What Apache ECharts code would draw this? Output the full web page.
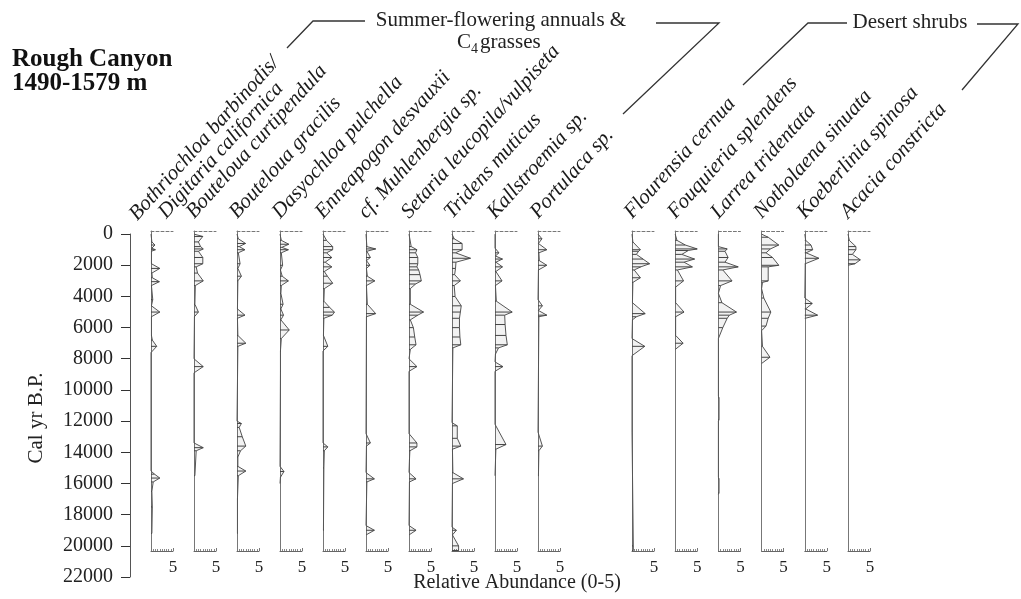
<!DOCTYPE html>
<html><head><meta charset="utf-8">
<script src="https://cdn.jsdelivr.net/npm/echarts@6/dist/echarts.min.js"></script>
<style>html,body{margin:0;padding:0;background:#fff}#c{width:1021px;height:599px}</style>
</head><body><div id="c"></div><script>
// ---------- DATA ----------
const taxa = [
  ['Bothriochloa barbinodis/', 'Digitaria californica'],
  ['Bouteloua curtipendula'], ['Bouteloua gracilis'], ['Dasyochloa pulchella'],
  ['Enneapogon desvauxii'], ['cf. Muhlenbergia sp.'], ['Setaria leucopila/vulpiseta'],
  ['Tridens muticus'], ['Kallstroemia sp.'], ['Portulaca sp.'],
  ['Flourensia cernua'], ['Fouquieria splendens'], ['Larrea tridentata'],
  ['Notholaena sinuata'], ['Koeberlinia spinosa'], ['Acacia constricta']
];
// [cal yr B.P., relative abundance 0-5]
const bothriochloa = [[0,0],[500,0.2],[700,0.9],[900,0.2],[1000,1.0],[1100,0.1],[1900,0.1],[2200,2.0],[2500,0.2],[2800,0.3],[3050,1.9],[3300,0.1],[4200,0.4],[4600,0.1],[5000,2.0],[5300,0.1],[6500,0.1],[6800,0.3],[7200,1.3],[7600,0],[15200,0],[15400,0.8],[15650,2.0],[15900,0.5],[16500,0.2],[17500,0.3],[19200,0.2]];
const boutelouaCurt = [[0,0],[150,2.0],[500,1.0],[800,1.5],[950,2.1],[1100,1.0],[1500,2.0],[1900,2.0],[2100,0.5],[2500,0.8],[3000,2.1],[3300,0.3],[4500,0.2],[5000,1.0],[5300,0.1],[8000,0],[8500,2.1],[8900,0],[13400,0],[13700,2.1],[13900,0.5],[15500,0.2]];
const boutelouaGrac = [[0,0],[300,0.3],[600,1.95],[800,0.5],[1000,1.8],[1200,0.3],[1900,0.7],[2200,0.2],[2700,1.0],[3000,0.2],[4800,0.1],[5200,1.8],[5400,0.1],[6500,0.2],[7000,2.0],[7200,0.2],[12000,0],[12150,1.0],[12400,0.5],[13000,1.2],[13600,2.0],[13900,0.8],[14300,0.2],[14900,0.2],[15200,2.0],[15500,0.3],[17000,0.1],[19200,0.1]];
const dasyochloa = [[0,0],[400,0.3],[650,2.0],[850,0.4],[1000,1.9],[1200,0.3],[2000,0.6],[2300,0.1],[2700,0.5],[3000,1.9],[3300,0.3],[3800,0.2],[4500,0.7],[4800,0.2],[5200,0.8],[5500,0.2],[6150,2.1],[6700,0.3],[7500,0.1],[8800,0.1],[14900,0],[15230,0.9],[15600,0.1],[16000,0]];
const enneapogon = [[0,0],[400,0.8],[800,2.2],[1000,2.2],[1200,0.8],[1500,2.0],[1800,0.5],[2100,2.0],[2400,0.3],[2700,1.0],[3150,2.2],[3500,0.3],[4300,0.2],[4700,1.5],[5000,2.6],[5200,2.1],[5400,0.2],[6500,0.1],[7200,1.1],[7500,0],[13400,0],[13650,1.1],[13900,0.3],[15000,0.2],[19000,0.1]];
const muhlenbergia = [[0,0],[800,0.2],[950,2.2],[1100,0.2],[1500,1.0],[1700,0.1],[2000,0.9],[2200,0.1],[2700,0.3],[3000,2.0],[3300,0.1],[4500,0.3],[5100,2.2],[5300,0.1],[12800,0],[13400,1.0],[13600,0.1],[15300,0],[15700,1.9],[15900,0.2],[18700,0],[19000,1.9],[19300,0]];
const setaria = [[0,0],[800,0.5],[1000,1.8],[1200,1.5],[1500,2.0],[1900,2.0],[2100,1.8],[2300,2.2],[2600,2.5],[3000,2.8],[3200,1.5],[3500,0.3],[4500,0.3],[5000,3.3],[5200,2.0],[5500,0.3],[6000,1.0],[6600,1.3],[7100,1.6],[7400,0.3],[8000,0],[8500,1.8],[8800,0],[12800,0],[13400,1.8],[13650,1.8],[13900,0.2],[14500,0.1],[15300,0],[15700,1.6],[15900,0.1],[18700,0],[19000,1.6],[19300,0]];
const tridens = [[0,0],[300,0.5],[600,2.3],[1000,2.3],[1200,0.8],[1550,4.2],[1800,0.9],[2200,0.8],[2600,0.6],[3000,1.9],[3300,0.5],[4000,0.7],[4600,2.1],[5000,1.9],[5400,1.7],[6000,1.7],[6600,1.8],[7100,2.0],[7300,0.2],[12100,0],[12300,1.2],[13100,1.2],[13600,2.0],[13800,0.1],[15300,0.2],[15700,2.6],[16000,0.1],[18800,0],[19000,1.0],[19300,0.1],[20000,1.5],[20300,1.5]];
const kallstroemia = [[0,0],[900,0],[1200,0.9],[1400,0.1],[1600,1.7],[1800,0.2],[2100,1.7],[2400,0.2],[3000,1.6],[3300,0.1],[4300,0.3],[5000,3.9],[5200,2.2],[5800,2.3],[6500,2.5],[7100,2.8],[7300,0.8],[7700,0.1],[8200,0],[8500,1.8],[8800,0],[12200,0],[13500,2.5],[13800,0.2],[15500,0]];
const portulaca = [[0,0],[300,0.9],[600,0.1],[1000,2.0],[1200,0.2],[1700,0.3],[2000,2.0],[2300,0.1],[4200,0],[4600,1.0],[4900,0.1],[5200,2.0],[5300,0.2],[12700,0],[13600,1.0],[13900,0.2],[15500,0.1]];
const flourensia = [[0,0],[500,0.2],[1000,1.9],[1100,1.5],[1300,1.0],[1600,2.5],[1900,4.0],[2100,2.0],[2300,0.5],[2800,1.9],[3100,0.2],[4400,0.1],[5100,3.0],[5300,1.0],[5500,0.1],[6700,0],[7200,2.9],[7800,0],[12700,0],[20000,0.3],[20300,0.3]];
const fouquieria = [[0,0],[400,0.4],[700,2.3],[950,5.0],[1050,3.0],[1300,1.5],[1600,4.4],[1800,2.0],[2100,3.9],[2300,0.5],[3000,1.9],[3400,0.1],[4400,0.1],[5000,2.0],[5300,0.1],[6500,0.1],[7000,1.8],[7400,0]];
const larrea = [[0,0],[800,0],[950,2.0],[1100,1.5],[1500,2.2],[1800,1.5],[2100,4.5],[2300,1.0],[3000,3.1],[3300,0.5],[3800,0],[4400,0.8],[5000,4.1],[5200,2.5],[5400,2.0],[6000,1.0],[6700,0],[10400,0],[10500,0.15],[11900,0.15],[12000,0],[15600,0],[15700,0.15],[16600,0.15],[16700,0]];
const notholaena = [[0,0],[200,1.5],[700,3.9],[950,2.0],[1200,1.0],[1500,2.5],[2000,3.9],[2100,1.5],[3000,1.5],[3100,0.2],[3500,0],[4100,0.5],[5000,2.1],[5400,1.5],[5900,1.0],[6200,0],[7200,0.2],[7900,1.9],[8300,0]];
const koeberlinia = [[0,0],[400,0.2],[700,1.4],[1000,1.8],[1200,0.3],[1550,3.2],[1900,0.1],[4100,0],[4450,1.7],[4800,0.2],[5200,2.9],[5400,0.1]];
const acacia = [[0,0],[400,0.3],[800,1.8],[1000,1.8],[1300,1.0],[1650,2.8],[1900,1.6],[2000,0]];
const records = [bothriochloa, boutelouaCurt, boutelouaGrac, dasyochloa, enneapogon, muhlenbergia, setaria, tridens, kallstroemia, portulaca, flourensia, fouquieria, larrea, notholaena, koeberlinia, acacia];
const groupNames = ['Summer-flowering annuals &', 'Desert shrubs'];
const yAxisName = 'Cal yr B.P.';
const xAxisName = 'Relative Abundance (0-5)';
const titleLines = ['Rough Canyon', '1490-1579 m'];

// ---------- LAYOUT ----------
const SERIF = '"Liberation Serif", "Times New Roman", serif';
const AGE_MIN = -200, AGE_MAX = 20330;
const panelX = [];
for (let i = 0; i < 10; i++) panelX.push(151 + i * 43);
for (let i = 0; i < 6; i++) panelX.push(632 + i * 43.2);
const PANEL_TOP = 231, PANEL_H = 320, PANEL_W = 22;

const grid = [{left:130, top:234, width:1, height:343}];
const xAxis = [{gridIndex:0, type:'value', show:false}];
const yAxis = [{
  gridIndex:0, type:'value', inverse:true, min:0, max:22000, interval:2000,
  axisLine:{show:true, lineStyle:{color:'#555', width:1}},
  axisTick:{show:true, length:9, lineStyle:{color:'#333'}},
  axisLabel:{margin:17, fontSize:20, fontFamily:SERIF, color:'#222', formatter: v => String(v)},
  splitLine:{show:false}
}];
const series = [];

records.forEach((rec, i) => {
  const gi = i + 1;
  grid.push({left:panelX[i], top:PANEL_TOP, width:PANEL_W, height:PANEL_H});
  xAxis.push({
    gridIndex:gi, type:'value', min:0, max:5, interval:5, position:'bottom',
    axisLine:{show:true, onZero:false, lineStyle:{color:'#666'}},
    axisTick:{show:true, inside:true, length:3, lineStyle:{color:'#777'}},
    minorTick:{show:true, splitNumber:10, length:2, lineStyle:{color:'#888'}},
    axisLabel:{margin:8, fontSize:17, fontFamily:SERIF, color:'#222',
      formatter: v => (v === 5 ? '5' : '')},
    splitLine:{show:false}
  });
  xAxis.push({
    gridIndex:gi, type:'value', min:0, max:5, position:'top',
    axisLine:{show:true, onZero:false, lineStyle:{color:'#777', type:[3,2]}},
    axisTick:{show:false}, axisLabel:{show:false}, splitLine:{show:false}
  });
  yAxis.push({
    gridIndex:gi, type:'value', inverse:true, min:AGE_MIN, max:AGE_MAX,
    axisLine:{show:true, onZero:false, lineStyle:{color:'#777'}},
    axisTick:{show:false}, axisLabel:{show:false}, splitLine:{show:false}
  });
  const data = rec.map(d => [d[1], d[0]]);
  series.push({
    type:'custom', xAxisIndex:2*i+1, yAxisIndex:gi, silent:true, animation:false,
    encode:{x:0, y:1}, data:data, clip:false,
    renderItem: (params, api) => {
      const k = params.dataIndex;
      const cur = data[k], nxt = data[k+1];
      const p0 = api.coord([0, cur[1]]), p1 = api.coord([cur[0], cur[1]]);
      const children = [];
      if (nxt) {
        const q0 = api.coord([0, nxt[1]]), q1 = api.coord([nxt[0], nxt[1]]);
        children.push({type:'polygon', shape:{points:[p0,p1,q1,q0]}, style:{fill:'rgba(0,0,0,0.05)'}});
        children.push({type:'line', shape:{x1:p1[0], y1:p1[1], x2:q1[0], y2:q1[1]}, style:{stroke:'#555', lineWidth:1}});
      }
      if (cur[0] > 0.05) children.push({type:'line', shape:{x1:p0[0], y1:p0[1], x2:p1[0], y2:p1[1]}, style:{stroke:'#444', lineWidth:1}});
      return {type:'group', children};
    }
  });
});

// ---------- TEXT / ANNOTATIONS ----------
const graphic = [];
const ROT = 48 * Math.PI / 180;
const up = [-Math.sin(ROT) * 4, -Math.cos(ROT) * 4];
function rotLabel(text, bx, by) {
  graphic.push({type:'text', x: bx - up[0], y: by - up[1], rotation: ROT,
    style:{text, font:'italic 21px ' + SERIF, fill:'#1a1a1a', align:'left', verticalAlign:'bottom'}});
}
taxa.forEach((lines, i) => {
  if (lines.length === 2) {
    rotLabel(lines[0], panelX[i] - 13, 222);
    rotLabel(lines[1], panelX[i] + 16, 220);
  } else {
    rotLabel(lines[0], panelX[i] + 1, 220);
  }
});
graphic.push({type:'text', x:12, y:60, style:{text:titleLines[0], font:'bold 25px ' + SERIF, fill:'#111', align:'left', verticalAlign:'middle'}});
graphic.push({type:'text', x:12, y:84, style:{text:titleLines[1], font:'bold 25px ' + SERIF, fill:'#111', align:'left', verticalAlign:'middle'}});
graphic.push({type:'text', x:36, y:418, rotation:Math.PI/2, style:{text:yAxisName, font:'21px ' + SERIF, fill:'#222', align:'center', verticalAlign:'middle'}});
graphic.push({type:'text', x:517, y:583, style:{text:xAxisName, font:'20px ' + SERIF, fill:'#222', align:'center', verticalAlign:'middle'}});
graphic.push({type:'text', x:501, y:20, style:{text:groupNames[0], font:'21px ' + SERIF, fill:'#222', align:'center', verticalAlign:'middle'}});
graphic.push({type:'text', x:457, y:42, style:{text:'C', font:'21px ' + SERIF, fill:'#222', align:'left', verticalAlign:'middle'}});
graphic.push({type:'text', x:471, y:49, style:{text:'4', font:'14px ' + SERIF, fill:'#222', align:'left', verticalAlign:'middle'}});
graphic.push({type:'text', x:480, y:42, style:{text:'grasses', font:'21px ' + SERIF, fill:'#222', align:'left', verticalAlign:'middle'}});
graphic.push({type:'text', x:910, y:22, style:{text:groupNames[1], font:'21px ' + SERIF, fill:'#222', align:'center', verticalAlign:'middle'}});
const lineStyle = {stroke:'#333', lineWidth:1.3, fill:null};
graphic.push({type:'polyline', shape:{points:[[287,48],[313,21],[365,21]]}, style:lineStyle});
graphic.push({type:'polyline', shape:{points:[[656,23],[719,23],[623,114]]}, style:lineStyle});
graphic.push({type:'polyline', shape:{points:[[743,85],[808,23],[847,23]]}, style:lineStyle});
graphic.push({type:'polyline', shape:{points:[[977,24],[1018,24],[962,90]]}, style:lineStyle});

const chart = echarts.init(document.getElementById('c'), null, {renderer:'canvas'});
chart.setOption({backgroundColor:'#fff', animation:false, grid, xAxis, yAxis, series, graphic});
</script></body></html>
